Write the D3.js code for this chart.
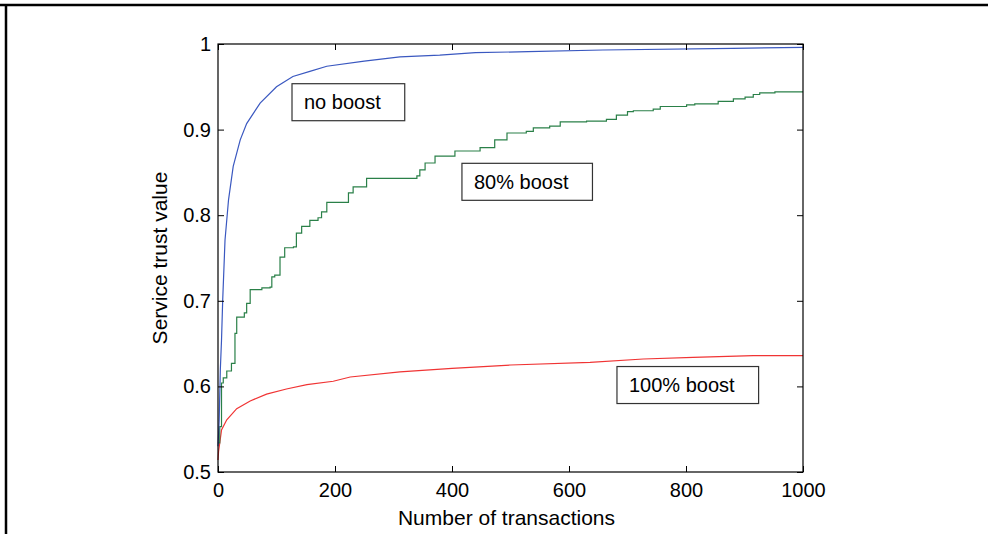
<!DOCTYPE html>
<html>
<head>
<meta charset="utf-8">
<script src="https://cdn.jsdelivr.net/npm/d3@7"></script>
<style>
  body { margin: 0; background: #fff; }
  svg { display: block; font-family: "Liberation Sans", Arial, sans-serif; }
</style>
</head>
<body>
<svg id="chart" width="988" height="534"></svg>
<script>
// values
const blueX = [0, 2, 4, 6, 8, 12, 18, 26, 38, 49, 72, 100, 128, 157, 186, 250, 311, 379, 440, 530, 658, 880, 1000];
const blueY = [0.530, 0.560, 0.620, 0.654, 0.700, 0.771, 0.818, 0.857, 0.888, 0.907, 0.931, 0.950, 0.962, 0.968, 0.974, 0.980, 0.985, 0.987, 0.990, 0.991, 0.993, 0.995, 0.996];

const greenX = [0, 3, 6, 9, 15, 23, 29, 32, 45, 49, 55, 75, 89, 92, 97, 106, 114, 129, 134, 143, 157, 171, 177, 186, 223, 231, 254, 340, 345, 354, 371, 405, 448, 473, 494, 527, 539, 567, 585, 630, 664, 681, 700, 710, 744, 756, 801, 815, 855, 881, 901, 915, 926, 952, 1000];
const greenY = [0.534, 0.553, 0.604, 0.610, 0.618, 0.627, 0.662, 0.681, 0.686, 0.697, 0.713, 0.715, 0.716, 0.728, 0.730, 0.751, 0.762, 0.763, 0.779, 0.787, 0.794, 0.797, 0.804, 0.815, 0.826, 0.833, 0.843, 0.846, 0.853, 0.861, 0.869, 0.875, 0.879, 0.888, 0.896, 0.898, 0.902, 0.904, 0.909, 0.910, 0.912, 0.917, 0.921, 0.922, 0.924, 0.927, 0.929, 0.930, 0.933, 0.936, 0.938, 0.941, 0.943, 0.944, 0.944];

const redX = [0, 1, 6, 15, 32, 55, 83, 117, 152, 197, 226, 311, 400, 500, 636, 727, 812, 915, 1000];
const redY = [0.514, 0.524, 0.549, 0.561, 0.574, 0.583, 0.591, 0.597, 0.602, 0.606, 0.611, 0.617, 0.621, 0.625, 0.628, 0.632, 0.634, 0.636, 0.636];

const xTicks = [0, 200, 400, 600, 800, 1000];
const yTicks = [0.5, 0.6, 0.7, 0.8, 0.9, 1];

// text boxes: left edge (x) and vertical centre (y) in data units
const labels = [
    { text: "no boost", x: 126.5, y: 0.932 },
    { text: "80% boost", x: 417, y: 0.839 },
    { text: "100% boost", x: 682, y: 0.6016 }
];

const svg = d3.select("#chart");

// outer frame (top and left edges only)
svg.append("line").attr("x1", 0).attr("y1", 5).attr("x2", 988).attr("y2", 5)
    .attr("stroke", "#000").attr("stroke-width", 2.5);
svg.append("line").attr("x1", 6).attr("y1", 4).attr("x2", 6).attr("y2", 534)
    .attr("stroke", "#000").attr("stroke-width", 2.5);

const plotLeft = 218, plotRight = 803, plotTop = 44, plotBottom = 472;

const x = d3.scaleLinear().domain([0, 1000]).range([plotLeft, plotRight]);
const y = d3.scaleLinear().domain([0.5, 1]).range([plotBottom, plotTop]);

// curves
function drawSeries(xs, ys, color, curve) {
    const pts = xs.map((v, i) => [v, ys[i]]);
    svg.append("path")
        .datum(pts)
        .attr("fill", "none")
        .attr("stroke", color)
        .attr("stroke-width", 1.2)
        .attr("d", d3.line().x(d => x(d[0])).y(d => y(d[1])).curve(curve));
}
drawSeries(redX, redY, "#f03434", d3.curveLinear);
drawSeries(greenX, greenY, "#2a8048", d3.curveStepAfter);
drawSeries(blueX, blueY, "#3a58c0", d3.curveLinear);

// axes with inward ticks, MATLAB-style box
const tick = 6;
svg.append("g").attr("transform", `translate(0,${plotBottom})`)
    .call(d3.axisBottom(x).tickValues(xTicks).tickSizeInner(-tick).tickSizeOuter(0).tickPadding(11).tickFormat(d3.format("d")));
svg.append("g").attr("transform", `translate(0,${plotTop})`)
    .call(d3.axisTop(x).tickValues(xTicks).tickSizeInner(-tick).tickSizeOuter(0).tickFormat(""));
svg.append("g").attr("transform", `translate(${plotLeft},0)`)
    .call(d3.axisLeft(y).tickValues(yTicks).tickSizeInner(-tick).tickSizeOuter(0).tickPadding(7).tickFormat(d => d === 1 ? "1" : d3.format(".1f")(d)));
svg.append("g").attr("transform", `translate(${plotRight},0)`)
    .call(d3.axisRight(y).tickValues(yTicks).tickSizeInner(-tick).tickSizeOuter(0).tickFormat(""));

svg.selectAll(".tick text").attr("font-size", 20).attr("fill", "#000")
    .attr("font-family", "Liberation Sans, Arial, sans-serif");
svg.selectAll(".domain").attr("stroke", "none");
svg.selectAll(".tick line").attr("stroke", "#000");

svg.append("rect")
    .attr("x", plotLeft).attr("y", plotTop)
    .attr("width", plotRight - plotLeft).attr("height", plotBottom - plotTop)
    .attr("fill", "none").attr("stroke", "#000").attr("stroke-width", 1.2);

// axis titles
svg.append("text")
    .attr("x", (plotLeft + plotRight) / 2 - 4).attr("y", 525)
    .attr("text-anchor", "middle").attr("font-size", 21)
    .text("Number of transactions");
svg.append("text")
    .attr("transform", `translate(167,${(plotTop + plotBottom) / 2}) rotate(-90)`)
    .attr("text-anchor", "middle").attr("font-size", 21)
    .text("Service trust value");

// boxed annotations
labels.forEach(l => {
    const g = svg.append("g");
    const t = g.append("text")
        .attr("x", x(l.x) + 12).attr("y", y(l.y))
        .attr("dominant-baseline", "central")
        .attr("font-size", 20)
        .text(l.text);
    const w = t.node().getComputedTextLength();
    g.insert("rect", "text")
        .attr("x", x(l.x)).attr("y", y(l.y) - 18.5)
        .attr("width", w + 36).attr("height", 37)
        .attr("fill", "#fff").attr("stroke", "#333").attr("stroke-width", 1.2);
});
</script>
</body>
</html>
